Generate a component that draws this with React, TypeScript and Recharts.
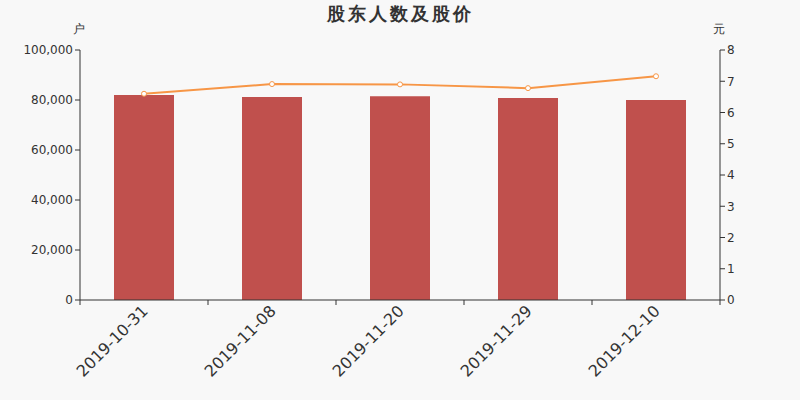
import { ComposedChart, Bar, Line, XAxis, YAxis } from 'recharts';

const dates = ['2019-10-31', '2019-11-08', '2019-11-20', '2019-11-29', '2019-12-10'];
const holders = [82000, 81200, 81500, 80800, 80000];
const prices = [6.6, 6.91, 6.9, 6.78, 7.16];
const leftTicks = [0, 20000, 40000, 60000, 80000, 100000];
const rightTicks = [0, 1, 2, 3, 4, 5, 6, 7, 8];

const data = dates.map((d, i) => ({ date: d, holders: holders[i], price: prices[i] }));

const font = 'DejaVu Sans, sans-serif';

function DateTick(props: any) {
  const { x, y, payload, index, visibleTicksCount } = props;
  const half = 64;
  return (
    <g>
      <line x1={x - half} y1={y - 8} x2={x - half} y2={y - 3} stroke="#333" />
      {index === visibleTicksCount - 1 && (
        <line x1={x + half} y1={y - 8} x2={x + half} y2={y - 3} stroke="#333" />
      )}
      <text
        x={x + 5}
        y={y + 4}
        transform={`rotate(-45, ${x + 5}, ${y + 4})`}
        textAnchor="end"
        fontSize={16}
        fill="#333"
        fontFamily={font}
      >
        {payload.value}
      </text>
    </g>
  );
}

export default function App() {
  return (
    <div style={{ position: 'fixed', left: 0, top: 0, width: 800, height: 400, background: '#f8f8f8' }}>
      <ComposedChart
        width={800}
        height={400}
        data={data}
        margin={{ top: 50, right: 0, bottom: 0, left: 0 }}
      >
        <text
          x={400}
          y={20}
          textAnchor="middle"
          fontSize={18}
          letterSpacing={3}
          fontWeight="bold"
          fill="#333"
          fontFamily={font}
        >
          股东人数及股价
        </text>
        <text x={79} y={33} textAnchor="middle" fontSize={12} fill="#333" fontFamily={font}>
          户
        </text>
        <text x={719} y={33} textAnchor="middle" fontSize={12} fill="#333" fontFamily={font}>
          元
        </text>
        <XAxis
          dataKey="date"
          height={100}
          axisLine={{ stroke: '#333' }}
          tickLine={false}
          tick={<DateTick />}
          interval={0}
        />
        <YAxis
          yAxisId="left"
          width={80}
          domain={[0, 100000]}
          ticks={leftTicks}
          axisLine={{ stroke: '#333' }}
          tickLine={{ stroke: '#333' }}
          tickSize={5}
          tick={{ fill: '#333', fontSize: 12, fontFamily: font }}
          tickFormatter={(v: number) => v.toLocaleString('en-US')}
        />
        <YAxis
          yAxisId="right"
          orientation="right"
          width={80}
          domain={[0, 8]}
          ticks={rightTicks}
          axisLine={{ stroke: '#333' }}
          tickLine={{ stroke: '#333' }}
          tickSize={5}
          tick={{ fill: '#333', fontSize: 12, fontFamily: font }}
        />
        <Bar yAxisId="left" dataKey="holders" fill="#c0504d" barSize={60} isAnimationActive={false} />
        <Line
          yAxisId="right"
          dataKey="price"
          stroke="#f79646"
          strokeWidth={2}
          dot={{ r: 2.5, fill: '#fff', stroke: '#f79646', strokeWidth: 1 }}
          isAnimationActive={false}
        />
      </ComposedChart>
    </div>
  );
}
